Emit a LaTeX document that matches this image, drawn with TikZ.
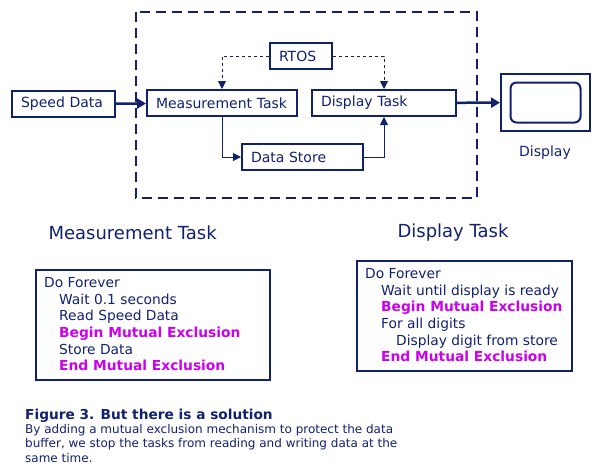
\documentclass[tikz,border=0pt]{standalone}
\usepackage{fontspec}
\setmainfont{DejaVu Sans}
\usepackage{tikz}
\usetikzlibrary{arrows.meta}
\definecolor{navy}{RGB}{18,32,112}
\definecolor{hotpink}{RGB}{204,0,238}

\begin{document}
\begin{tikzpicture}[x=1pt,y=-1pt,
	every node/.style={text=navy,font=\fontsize{14}{16}\selectfont},
	box/.style={draw=navy,line width=2pt,minimum height=26pt,inner ysep=0pt,inner xsep=9pt,text width=#1-18pt,align=left},
	link/.style={draw=navy,line width=1pt,-{Triangle[length=8pt,width=8pt]}},
	heavy/.style={draw=navy,line width=2.5pt,-{Triangle[length=9pt,width=10pt]}},
	codeline/.style={anchor=west,inner sep=0pt,text height=10pt,text depth=3pt,font=\fontsize{13.8}{16}\selectfont},
	hot/.style={text=hotpink,font=\fontsize{13.8}{16}\selectfont\bfseries}
]
\useasboundingbox (0,0) rectangle (599,469);
\draw[navy,line width=2pt,dash pattern=on 10pt off 6pt] (136,12) rectangle (477,198);
\node[box=103pt] (speed) at (63.5,104) {Speed Data};
\node[box=150pt] (meas) at (222,103) {Measurement Task};
\node[box=62pt] (rtos) at (301,56) {RTOS};
\node[box=144pt] (disp) at (384,103) {Display Task};
\node[box=121pt] (store) at (302.5,157) {Data Store};
\node[draw=navy,line width=2pt,minimum width=89pt,minimum height=57pt] (screen) at (545.5,102.5) {};
\node[draw=navy,line width=2pt,rounded corners=6pt,minimum width=70pt,minimum height=40pt] at (screen.center) {};
\node (screenlbl) at (545,153) {Display};
\draw[heavy] (speed) -- (meas);
\draw[heavy] (disp) -- (screen);
\draw[link,dash pattern=on 3pt off 3pt] (rtos.west) -| (meas.north);
\draw[link,dash pattern=on 3pt off 3pt] (rtos.east) -| (disp.north);
\draw[link] (meas.south) |- (store.west);
\draw[link] (store.east) -| (disp.south);

\node[font=\fontsize{18}{20}\selectfont,anchor=west] (mhead) at (45,233) {Measurement Task};
\node[font=\fontsize{18}{20}\selectfont,anchor=west] (dhead) at (394,233) {Display Task};
\draw[navy,line width=2pt] (36,270) rectangle (270,380);
\draw[navy,line width=2pt] (357,261) rectangle (572,371);
\foreach \n/\x/\y/\t/\s in{
	1/44/284/{Do Forever}/codeline,
	2/59/300.7/{Wait 0.1 seconds}/codeline,
	3/59/317.3/{Read Speed Data}/codeline,
	4/59/334/{Begin Mutual Exclusion}/hot,
	5/59/350.7/{Store Data}/codeline,
	6/59/367.3/{End Mutual Exclusion}/hot}
{
	\node[codeline,\s] (m\n) at (\x,\y) {\t};
}
\foreach \n/\x/\y/\t/\s in{
	1/365/275/{Do Forever}/codeline,
	2/381/291.7/{Wait until display is ready}/codeline,
	3/381/308.3/{Begin Mutual Exclusion}/hot,
	4/381/325/{For all digits}/codeline,
	5/396/341.7/{Display digit from store}/codeline,
	6/381/358.3/{End Mutual Exclusion}/hot}
{
	\node[codeline,\s] (d\n) at (\x,\y) {\t};
}

\node[anchor=base west,inner sep=0pt,font=\fontsize{13.7}{16}\selectfont\bfseries] (fig) at (25,419) {Figure 3. But there is a solution};
\node[anchor=north west,inner sep=0pt,align=left,font=\fontsize{12}{14.5}\selectfont] (cap) at (25,424)
	{By adding a mutual exclusion mechanism to protect the data\\buffer, we stop the tasks from reading and writing data at the\\same time.};
\end{tikzpicture}
\end{document}
